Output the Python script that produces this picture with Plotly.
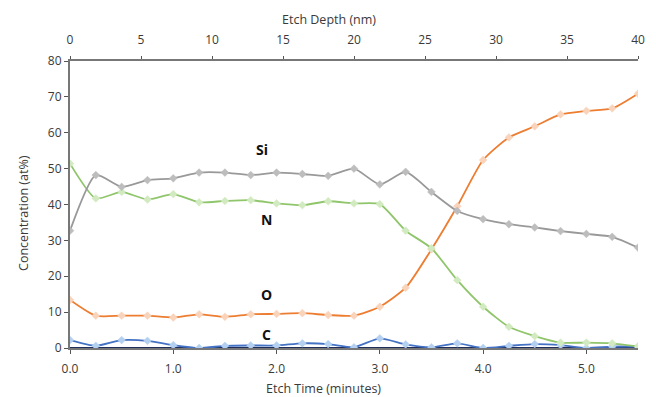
import plotly.graph_objects as go

etch_time = [0.0, 0.25, 0.5, 0.75, 1.0, 1.25, 1.5, 1.75, 2.0, 2.25, 2.5, 2.75,
             3.0, 3.25, 3.5, 3.75, 4.0, 4.25, 4.5, 4.75, 5.0, 5.25, 5.5]
si = [32.7, 48.2, 44.9, 46.8, 47.3, 48.9, 48.9, 48.2, 48.9, 48.5, 48.0, 50.0,
      45.6, 49.1, 43.5, 38.2, 35.9, 34.5, 33.6, 32.6, 31.8, 31.0, 28.0]
n = [51.4, 41.7, 43.5, 41.4, 42.9, 40.6, 41.0, 41.2, 40.3, 39.8, 40.9, 40.3,
     40.1, 32.7, 27.8, 18.9, 11.5, 5.9, 3.3, 1.5, 1.5, 1.3, 0.4]
o = [13.4, 9.0, 9.0, 9.0, 8.5, 9.4, 8.7, 9.4, 9.5, 9.7, 9.2, 9.0,
     11.5, 16.8, 27.5, 39.5, 52.4, 58.7, 61.8, 65.1, 66.1, 66.8, 70.9]
c = [2.2, 0.6, 2.2, 2.0, 0.8, 0.0, 0.6, 0.7, 0.7, 1.3, 1.1, 0.2,
     2.7, 1.0, 0.2, 1.3, 0.0, 0.6, 1.1, 0.8, 0.0, 0.4, 0.4]
other = [0.0] * len(etch_time)

depth_ticks = [0, 5, 10, 15, 20, 25, 30, 35, 40]
time_ticks = [0, 1, 2, 3, 4, 5]
time_tick_labels = ["0.0", "1.0", "2.0", "3.0", "4.0", "5.0"]
labels = ["Si", "N", "O", "C"]
label_x = [1.86, 1.9, 1.9, 1.9]
label_y = [55.2, 35.7, 14.8, 3.9]

fig = go.Figure()

def add(y, line_col, fill_col, markers=True):
    fig.add_trace(go.Scatter(
        x=etch_time, y=y, mode="lines+markers" if markers else "lines",
        line=dict(color=line_col, width=1.8, shape="spline", smoothing=0.6),
        marker=dict(symbol="diamond", size=6, color=fill_col,
                    line=dict(color=fill_col, width=0.5)),
        showlegend=False, hoverinfo="skip"))

add(other, "#1f2d5a", "#1f2d5a", markers=False)
add(c, "#4472c4", "#b4d0f0")
add(o, "#ed7d31", "#f9d3ba")
add(n, "#8fc56b", "#d2eac0")
add(si, "#999999", "#bdbdbd")

# dummy trace for top axis
fig.add_trace(go.Scatter(x=[0, 40], y=[None, None], xaxis="x2", yaxis="y",
                         showlegend=False, hoverinfo="skip"))

for t, xx, yy in zip(labels, label_x, label_y):
    fig.add_annotation(x=xx, y=yy, text="<b>%s</b>" % t, showarrow=False,
                       font=dict(size=14, color="#111111", family="Open Sans"))

axis_font = dict(family="Open Sans", size=12, color="#3a3a3a")
title_font = dict(family="Open Sans", size=12.5, color="#3a3a3a")

fig.add_annotation(xref="paper", yref="paper", x=0.447, y=-0.141,
                   xanchor="center", yanchor="middle",
                   text="Etch Time (minutes)", showarrow=False, font=title_font)
fig.add_annotation(xref="paper", yref="paper", x=0.456, y=1.143,
                   xanchor="center", yanchor="middle",
                   text="Etch Depth (nm)", showarrow=False, font=title_font)
fig.add_annotation(xref="paper", yref="paper", x=-0.083, y=0.47,
                   xanchor="center", yanchor="middle",
                   text="Concentration (at%)", showarrow=False, textangle=-90,
                   font=title_font)

fig.update_layout(
    width=648, height=389,
    margin=dict(l=62, r=18, t=53, b=49),
    paper_bgcolor="white", plot_bgcolor="white",
    font=axis_font,
    xaxis=dict(range=[0, 5.5], tickvals=time_ticks, ticktext=time_tick_labels,
               showgrid=False, zeroline=False, showline=True, linecolor="#777777",
               linewidth=2, ticks="outside", ticklen=4, tickcolor="#555555",
               ticklabelstandoff=5, automargin=False),
    xaxis2=dict(range=[0, 40], tickvals=depth_ticks, overlaying="x", side="top",
                showgrid=False, zeroline=False, showline=True, linecolor="#777777",
                linewidth=2, ticks="outside", ticklen=3, tickcolor="#555555",
                ticklabelstandoff=7, automargin=False),
    yaxis=dict(range=[0, 80], dtick=10, showgrid=False, zeroline=False,
               showline=True, linecolor="#777777", linewidth=2, ticks="outside",
               ticklen=4, tickcolor="#555555", automargin=False),
)

fig.write_html("out.html")
